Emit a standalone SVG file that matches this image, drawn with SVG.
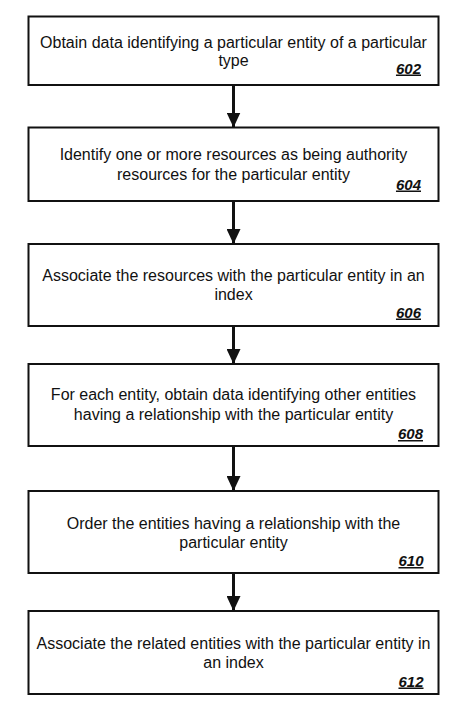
<svg xmlns="http://www.w3.org/2000/svg" width="461" height="705" viewBox="0 0 461 705">
<style>
.box{fill:#fff;stroke:#111;stroke-width:2}
.t{font-family:"Liberation Sans",Arial,sans-serif;font-size:16px;fill:#111;text-anchor:middle}
.n{font-family:"Liberation Sans",Arial,sans-serif;font-size:15px;font-weight:bold;font-style:italic;text-decoration:underline;fill:#111;text-anchor:end}
.c{stroke:#111;stroke-width:3;fill:none}
</style>
<defs>
<marker id="ah" viewBox="0 0 15 14" refX="15" refY="7" markerWidth="15" markerHeight="14" markerUnits="userSpaceOnUse" orient="auto">
<path d="M0,0 L15,7 L0,14 z" fill="#111"/>
</marker>
</defs>
<rect width="461" height="705" fill="#fff"/>
<g id="connectors">
<line class="c" x1="233.5" y1="85" x2="233.5" y2="127.5" marker-end="url(#ah)"/>
<line class="c" x1="233.5" y1="201" x2="233.5" y2="244" marker-end="url(#ah)"/>
<line class="c" x1="233.5" y1="326" x2="233.5" y2="364" marker-end="url(#ah)"/>
<line class="c" x1="233.5" y1="446" x2="233.5" y2="491" marker-end="url(#ah)"/>
<line class="c" x1="233.5" y1="573" x2="233.5" y2="611" marker-end="url(#ah)"/>
</g>
<g id="n602">
<rect class="box" x="28.5" y="16.5" width="410" height="68.5"/>
<text class="t" x="233.5" y="47.5">Obtain data identifying a particular entity of a particular</text>
<text class="t" x="233.5" y="65.5">type</text>
<text class="n" x="421" y="73.5">602</text>
</g>
<g id="n604">
<rect class="box" x="28.5" y="127.5" width="410" height="73.5"/>
<text class="t" x="233.5" y="159.5">Identify one or more resources as being authority</text>
<text class="t" x="233.5" y="179.5">resources for the particular entity</text>
<text class="n" x="421" y="189.5">604</text>
</g>
<g id="n606">
<rect class="box" x="28.5" y="244" width="410" height="82"/>
<text class="t" x="233.5" y="280.7">Associate the resources with the particular entity in an</text>
<text class="t" x="233.5" y="299.5">index</text>
<text class="n" x="421" y="317.5">606</text>
</g>
<g id="n608">
<rect class="box" x="28.5" y="364" width="410" height="82"/>
<text class="t" x="233.5" y="400">For each entity, obtain data identifying other entities</text>
<text class="t" x="233.5" y="420">having a relationship with the particular entity</text>
<text class="n" x="423" y="439">608</text>
</g>
<g id="n610">
<rect class="box" x="28.5" y="491" width="410" height="82"/>
<text class="t" x="233.5" y="528.5">Order the entities having a relationship with the</text>
<text class="t" x="233.5" y="547.5">particular entity</text>
<text class="n" x="423.5" y="566">610</text>
</g>
<g id="n612">
<rect class="box" x="28.5" y="611" width="410" height="83"/>
<text class="t" x="233.5" y="649">Associate the related entities with the particular entity in</text>
<text class="t" x="233.5" y="667.5">an index</text>
<text class="n" x="423.5" y="686.5">612</text>
</g>
</svg>
